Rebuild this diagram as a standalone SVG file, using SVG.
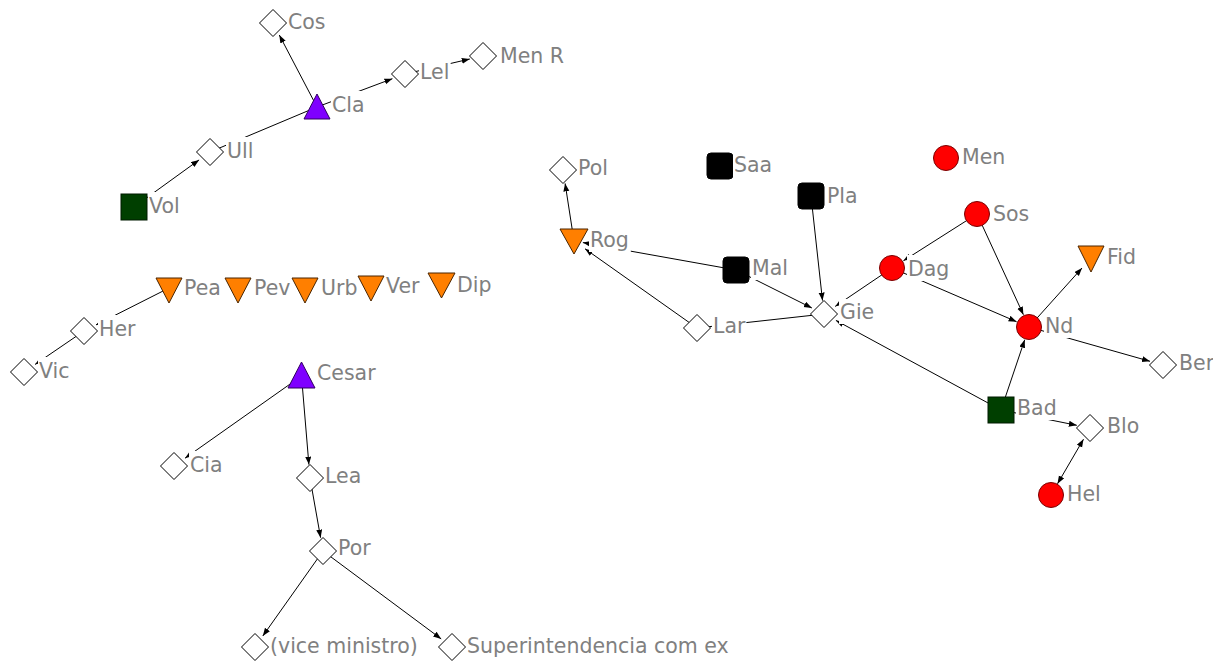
<svg xmlns="http://www.w3.org/2000/svg" xmlns:xlink="http://www.w3.org/1999/xlink" width="1213" height="661" viewBox="0 0 1213 661">
<defs>
<marker id="arr" markerUnits="userSpaceOnUse" markerWidth="9" markerHeight="7" refX="8" refY="3" orient="auto-start-reverse"><path d="M0,0 L8,3 L0,6 Z" fill="#000"/></marker>
<path id="dia" d="M-13.5,0 L0,-13.5 L13.5,0 L0,13.5 Z"/>
</defs>
<style>
.e line{stroke:#000;stroke-width:1;fill:none}
.d{fill:#fff;stroke:#000;stroke-width:1}
.c{fill:#ff0000;stroke:#7a0000;stroke-width:1}
.t{font-family:"DejaVu Sans",sans-serif;font-size:20.5px;fill:#808080}
.bg{fill:#fff}
.tu{fill:#7f00ff;stroke:#30005f;stroke-width:1}
.td{fill:#ff7f00;stroke:#4a2500;stroke-width:1}
.sk{fill:#000;stroke:#000;stroke-width:1}
.sg{fill:#003f00;stroke:#001a00;stroke-width:1}
</style>
<rect width="1213" height="661" fill="#fff"/>
<g id="edges" class="e">
<line x1="134" y1="207" x2="199.1" y2="159.9" marker-end="url(#arr)"/>
<line x1="210" y1="152" x2="317" y2="107"/>
<line x1="317" y1="107" x2="279.3" y2="35" marker-end="url(#arr)"/>
<line x1="317" y1="107" x2="392.4" y2="78.7" marker-end="url(#arr)"/>
<line x1="405" y1="74" x2="469.8" y2="59" marker-end="url(#arr)"/>
<line x1="169" y1="288" x2="96" y2="324.9" marker-end="url(#arr)"/>
<line x1="84" y1="331" x2="35.1" y2="364.4" marker-end="url(#arr)"/>
<line x1="301.5" y1="376" x2="185" y2="458.2" marker-end="url(#arr)"/>
<line x1="301.5" y1="376" x2="308.9" y2="464.6" marker-end="url(#arr)"/>
<line x1="310" y1="478" x2="320.6" y2="537.7" marker-end="url(#arr)"/>
<line x1="323" y1="551" x2="262.8" y2="636" marker-end="url(#arr)"/>
<line x1="323" y1="551" x2="441.2" y2="638.9" marker-end="url(#arr)"/>
<line x1="574" y1="241" x2="565.1" y2="183.4" marker-end="url(#arr)"/>
<line x1="736" y1="270" x2="582.9" y2="242.6" marker-end="url(#arr)"/>
<line x1="697" y1="328" x2="585" y2="248.8" marker-end="url(#arr)"/>
<line x1="736" y1="270" x2="811.9" y2="308" marker-end="url(#arr)"/>
<line x1="811" y1="196" x2="822.5" y2="300.6" marker-end="url(#arr)"/>
<line x1="824" y1="314" x2="697" y2="328"/>
<line x1="892" y1="268" x2="835.2" y2="306.4" marker-end="url(#arr)"/>
<line x1="1001" y1="410" x2="835.9" y2="320.4" marker-end="url(#arr)"/>
<line x1="977" y1="214" x2="903.4" y2="260.8" marker-end="url(#arr)"/>
<line x1="977" y1="214" x2="1023.4" y2="314.7" marker-end="url(#arr)"/>
<line x1="892" y1="268" x2="1016.6" y2="321.7" marker-end="url(#arr)"/>
<line x1="1001" y1="410" x2="1024.7" y2="339.8" marker-end="url(#arr)"/>
<line x1="1029" y1="327" x2="1082" y2="268" marker-end="url(#arr)"/>
<line x1="1029" y1="327" x2="1150" y2="361.3" marker-end="url(#arr)"/>
<line x1="1001" y1="410" x2="1076.8" y2="425.3" marker-end="url(#arr)"/>
<line x1="1083.5" y1="439.2" x2="1057.5" y2="483.8" marker-start="url(#arr)" marker-end="url(#arr)"/>
</g>
<g id="n-cos"><use xlink:href="#dia" href="#dia" x="273" y="23" class="d"/><rect class="bg" x="287" y="8" width="39.5" height="26"/><text class="t" x="288" y="29">Cos</text></g>
<g id="n-cla"><polygon class="tu" points="317,94 304,119 330,119"/><rect class="bg" x="331" y="91" width="34.6" height="26"/><text class="t" x="332" y="112">Cla</text></g>
<g id="n-lel"><use xlink:href="#dia" href="#dia" x="405" y="74" class="d"/><rect class="bg" x="419" y="58" width="31.7" height="26"/><text class="t" x="420" y="79">Lel</text></g>
<g id="n-menr"><use xlink:href="#dia" href="#dia" x="483" y="56" class="d"/><rect class="bg" x="499" y="42" width="66" height="26"/><text class="t" x="500" y="63">Men R</text></g>
<g id="n-ull"><use xlink:href="#dia" href="#dia" x="210" y="152" class="d"/><rect class="bg" x="226" y="137" width="28.4" height="26"/><text class="t" x="227" y="158">Ull</text></g>
<g id="n-vol"><rect class="sg" x="121" y="194" width="26" height="26"/><rect class="bg" x="148" y="192" width="34.3" height="26"/><text class="t" x="149" y="213">Vol</text></g>
<g id="n-pea"><polygon class="td" points="156,278 182,278 169,303"/><rect class="bg" x="183" y="274" width="39.5" height="26"/><text class="t" x="184" y="295">Pea</text></g>
<g id="n-pev"><polygon class="td" points="225,278 251,278 238,303"/><rect class="bg" x="253" y="274" width="39.1" height="26"/><text class="t" x="254" y="295">Pev</text></g>
<g id="n-urb"><polygon class="td" points="292,278 318,278 305,303"/><rect class="bg" x="320" y="274" width="38.4" height="26"/><text class="t" x="321" y="295">Urb</text></g>
<g id="n-ver"><polygon class="td" points="358,276 384,276 371,301"/><rect class="bg" x="385" y="272" width="37" height="26"/><text class="t" x="386" y="293">Ver</text></g>
<g id="n-dip"><polygon class="td" points="428,273 455,273 441.5,298"/><rect class="bg" x="456" y="271" width="36.5" height="26"/><text class="t" x="457" y="292">Dip</text></g>
<g id="n-her"><use xlink:href="#dia" href="#dia" x="84" y="331" class="d"/><rect class="bg" x="98" y="315" width="38.4" height="26"/><text class="t" x="99" y="336">Her</text></g>
<g id="n-vic"><use xlink:href="#dia" href="#dia" x="24" y="372" class="d"/><rect class="bg" x="38" y="357" width="33" height="26"/><text class="t" x="39" y="378">Vic</text></g>
<g id="n-cesar"><polygon class="tu" points="301.5,362 288,388 315,388"/><rect class="bg" x="316" y="359" width="60.6" height="26"/><text class="t" x="317" y="380">Cesar</text></g>
<g id="n-cia"><use xlink:href="#dia" href="#dia" x="174" y="466" class="d"/><rect class="bg" x="189" y="451" width="34.6" height="26"/><text class="t" x="190" y="472">Cia</text></g>
<g id="n-lea"><use xlink:href="#dia" href="#dia" x="310" y="478" class="d"/><rect class="bg" x="324" y="462" width="38.6" height="26"/><text class="t" x="325" y="483">Lea</text></g>
<g id="n-por"><use xlink:href="#dia" href="#dia" x="323" y="551" class="d"/><rect class="bg" x="337" y="534" width="35.3" height="26"/><text class="t" x="338" y="555">Por</text></g>
<g id="n-vice"><use xlink:href="#dia" href="#dia" x="255" y="647" class="d"/><rect class="bg" x="269" y="632" width="150" height="26"/><text class="t" x="270" y="653">(vice ministro)</text></g>
<g id="n-super"><use xlink:href="#dia" href="#dia" x="452" y="647" class="d"/><rect class="bg" x="466" y="632" width="264" height="26"/><text class="t" x="467" y="653">Superintendencia com ex</text></g>
<g id="n-pol"><use xlink:href="#dia" href="#dia" x="563" y="170" class="d"/><rect class="bg" x="577" y="154" width="32.6" height="26"/><text class="t" x="578" y="175">Pol</text></g>
<g id="n-saa"><rect class="sk" x="707" y="153" width="26" height="26" rx="4"/><rect class="bg" x="733" y="151" width="40.2" height="26"/><text class="t" x="734" y="172">Saa</text></g>
<g id="n-pla"><rect class="sk" x="798" y="183" width="26" height="26" rx="4"/><rect class="bg" x="826" y="182" width="32.6" height="26"/><text class="t" x="827" y="203">Pla</text></g>
<g id="n-rog"><polygon class="td" points="560,229 588,229 574,254"/><rect class="bg" x="589" y="226" width="41.8" height="26"/><text class="t" x="590" y="247">Rog</text></g>
<g id="n-mal"><rect class="sk" x="723" y="257" width="26" height="26" rx="4"/><rect class="bg" x="751" y="254" width="38" height="26"/><text class="t" x="752" y="275">Mal</text></g>
<g id="n-lar"><use xlink:href="#dia" href="#dia" x="697" y="328" class="d"/><rect class="bg" x="712" y="312" width="34.4" height="26"/><text class="t" x="713" y="333">Lar</text></g>
<g id="n-gie"><use xlink:href="#dia" href="#dia" x="824" y="314" class="d"/><rect class="bg" x="839" y="299" width="36.2" height="25"/><text class="t" x="840" y="319">Gie</text></g>
<g id="n-men"><circle class="c" cx="946" cy="158" r="12.5"/><rect class="bg" x="961" y="143" width="45.3" height="26"/><text class="t" x="962" y="164">Men</text></g>
<g id="n-sos"><circle class="c" cx="977" cy="214" r="12.5"/><rect class="bg" x="992" y="200" width="38.2" height="26"/><text class="t" x="993" y="221">Sos</text></g>
<g id="n-dag"><circle class="c" cx="892" cy="268" r="12.5"/><rect class="bg" x="907" y="255" width="43.4" height="26"/><text class="t" x="908" y="276">Dag</text></g>
<g id="n-fid"><polygon class="td" points="1078,246 1104,246 1091,272"/><rect class="bg" x="1106" y="243" width="32.5" height="26"/><text class="t" x="1107" y="264">Fid</text></g>
<g id="n-nd"><circle class="c" cx="1029" cy="327" r="12.5"/><rect class="bg" x="1044" y="312" width="30.4" height="26"/><text class="t" x="1045" y="333">Nd</text></g>
<g id="n-ber"><use xlink:href="#dia" href="#dia" x="1163" y="365" class="d"/><rect class="bg" x="1178" y="349" width="35" height="26"/><text class="t" x="1179" y="370">Ber</text></g>
<g id="n-bad"><rect class="sg" x="988" y="397" width="26" height="26"/><rect class="bg" x="1016" y="394" width="41.6" height="26"/><text class="t" x="1017" y="415">Bad</text></g>
<g id="n-blo"><use xlink:href="#dia" href="#dia" x="1090" y="428" class="d"/><rect class="bg" x="1106" y="412" width="34.3" height="26"/><text class="t" x="1107" y="433">Blo</text></g>
<g id="n-hel"><circle class="c" cx="1051" cy="495" r="12.5"/><rect class="bg" x="1066" y="480" width="35.7" height="26"/><text class="t" x="1067" y="501">Hel</text></g>
</svg>
